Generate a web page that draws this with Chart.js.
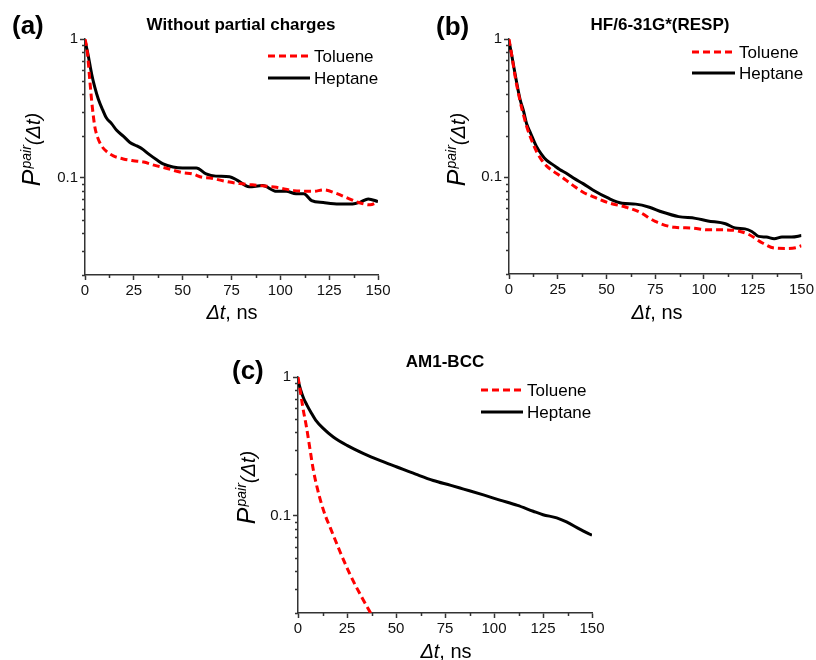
<!DOCTYPE html>
<html>
<head>
<meta charset="utf-8">
<script src="https://cdn.jsdelivr.net/npm/chart.js@4.4.1/dist/chart.umd.min.js"></script>
<style>
    body { margin: 0; background: #fff; }
    #wrap { position: relative; width: 816px; height: 660px; overflow: hidden; }
    canvas { position: absolute; left: 0; top: 0; }
</style>
</head>
<body>
<div id="wrap">
    <canvas id="CHART_A" width="816" height="660"></canvas>
    <canvas id="CHART_B" width="816" height="660"></canvas>
    <canvas id="CHART_C" width="816" height="660"></canvas>
</div>
<script>
"use strict"

// x ticks (ns) and y ticks (log)
const xticks = [0, 25, 50, 75, 100, 125, 150]
const xminor = [12.5, 37.5, 62.5, 87.5, 112.5, 137.5]
const yticks = [0.1, 1]
const yminor = [0.02, 0.03, 0.04, 0.05, 0.06, 0.07, 0.08, 0.09, 0.2, 0.3, 0.4, 0.5, 0.6, 0.7, 0.8, 0.9]
const series_names = ["Toluene", "Heptane"]

// (a) without partial charges
const a_tol_t = [0, 1, 2.6, 3.4, 5, 6.5, 8.5, 11, 14.5, 19.6, 24.7, 30, 35.8, 40, 50, 55, 60, 64, 71, 79, 90, 98, 107, 117, 122, 129, 135, 140, 146, 150]
const a_tol_p = [1.0, 0.85, 0.48, 0.36, 0.235, 0.195, 0.17, 0.155, 0.144, 0.137, 0.133, 0.13, 0.123, 0.119, 0.109, 0.107, 0.101, 0.1, 0.095, 0.091, 0.088, 0.0855, 0.081, 0.08, 0.082, 0.077, 0.071, 0.0665, 0.064, 0.067]
const a_hep_t = [0, 1.5, 3.4, 5, 6.8, 9, 11, 13.7, 16.2, 19.6, 23, 26.5, 29, 33, 36.7, 40, 45, 50, 57, 62, 67, 74, 78, 84, 91, 98, 103, 108, 112, 116, 122, 130, 137, 141, 145, 150]
const a_hep_p = [0.97, 0.78, 0.56, 0.45, 0.37, 0.31, 0.27, 0.245, 0.22, 0.2, 0.18, 0.17, 0.163, 0.147, 0.135, 0.126, 0.12, 0.118, 0.118, 0.107, 0.103, 0.102, 0.096, 0.0865, 0.088, 0.08, 0.08, 0.077, 0.077, 0.0686, 0.0665, 0.065, 0.065, 0.067, 0.0706, 0.0675]

// (b) HF/6-31G*(RESP)
const b_tol_t = [0, 1.5, 3.1, 5.6, 7.5, 9, 11, 14, 16.5, 19.2, 23, 26, 29.4, 34, 38, 43, 51, 60, 67, 75, 85, 94, 102, 111, 118, 123, 130, 136, 141.5, 147, 150]
const b_tol_p = [1.0, 0.75, 0.54, 0.36, 0.28, 0.235, 0.195, 0.155, 0.135, 0.121, 0.11, 0.103, 0.095, 0.085, 0.078, 0.0726, 0.0655, 0.0608, 0.056, 0.048, 0.0435, 0.043, 0.0417, 0.0417, 0.0408, 0.0386, 0.0335, 0.0308, 0.0306, 0.031, 0.032]
const b_hep_t = [0, 1.5, 3.1, 5.6, 7.5, 9, 11, 14, 16.5, 19.2, 23, 26, 29.4, 34, 38, 43, 51, 58, 65, 72, 78.6, 87, 95.6, 102, 111, 116, 121, 124.5, 128, 132, 136, 140, 145, 150]
const b_hep_p = [0.97, 0.75, 0.56, 0.37, 0.3, 0.245, 0.21, 0.168, 0.148, 0.133, 0.122, 0.114, 0.107, 0.097, 0.09, 0.081, 0.0706, 0.065, 0.064, 0.0608, 0.0561, 0.052, 0.0505, 0.0484, 0.0462, 0.043, 0.0424, 0.0406, 0.0374, 0.037, 0.036, 0.037, 0.037, 0.0379]

// (c) AM1-BCC
const c_tol_t = [0, 1, 2.5, 4.4, 6, 7.8, 10, 12, 14, 16.5, 21.5, 26.5, 32.5, 37.5, 40]
const c_tol_p = [1.0, 0.82, 0.6, 0.43, 0.31, 0.215, 0.155, 0.122, 0.1, 0.082, 0.055, 0.038, 0.026, 0.0195, 0.017]
const c_hep_t = [0, 1.2, 2.9, 4.5, 6.5, 9, 13, 18, 25, 33.5, 42, 50.5, 60, 69, 78, 84.5, 95, 103, 112, 120, 125, 132, 137, 144, 150]
const c_hep_p = [0.95, 0.82, 0.7, 0.63, 0.56, 0.49, 0.425, 0.37, 0.322, 0.281, 0.25, 0.225, 0.2, 0.18, 0.166, 0.156, 0.141, 0.13, 0.119, 0.108, 0.102, 0.0968, 0.0905, 0.08, 0.0726]

const FONT = "'Liberation Sans', Arial, sans-serif"
const RED = "#ff0000"
const AXIS = "#333"

function zip(t, p) { return t.map((x, i) => ({ x: x, y: p[i] })) }

// minor ticks + labels + legend, all in page pixels
const decor = {
    id: "decor",
    afterDraw(chart, args, o) {
        const ctx = chart.ctx
        const xs = chart.scales.x, ys = chart.scales.y
        const area = chart.chartArea
        ctx.save()
        ctx.strokeStyle = AXIS
        ctx.lineWidth = 1.5
        ctx.beginPath()
        xminor.forEach(v => {
            const px = Math.round(xs.getPixelForValue(v)) + 0.5
            ctx.moveTo(px, area.bottom)
            ctx.lineTo(px, area.bottom + 3)
        })
        yminor.forEach(v => {
            const py = Math.round(ys.getPixelForValue(v)) + 0.5
            ctx.moveTo(area.left, py)
            ctx.lineTo(area.left - 3, py)
        })
        ctx.stroke()

        ctx.fillStyle = "#000"
        ctx.textBaseline = "middle"
        // panel letter
        ctx.font = `bold 26px ${FONT}`
        ctx.textAlign = "left"
        ctx.fillText(o.letter, o.lx, o.ly)
        // panel title
        ctx.font = `bold 17px ${FONT}`
        ctx.textAlign = "center"
        ctx.fillText(o.title, o.tx, o.ty)

        // legend
        ctx.textAlign = "left"
        ctx.font = `17px ${FONT}`
        chart.data.datasets.forEach((d, i) => {
            const y = o.leg_y[i]
            ctx.save()
            ctx.strokeStyle = d.borderColor
            ctx.lineWidth = d.borderWidth
            ctx.setLineDash(d.borderDash || [])
            ctx.beginPath()
            ctx.moveTo(o.leg_x0, y)
            ctx.lineTo(o.leg_x1, y)
            ctx.stroke()
            ctx.restore()
            ctx.fillStyle = "#000"
            ctx.fillText(d.label, o.leg_x1 + 4, y + 1)
        })

        // y title: P^pair(Δt)
        ctx.save()
        ctx.translate(o.yx, o.yy)
        ctx.rotate(-Math.PI / 2)
        ctx.textBaseline = "alphabetic"
        ctx.textAlign = "left"
        const parts = [
            { s: "P", f: `italic 25px ${FONT}`, dy: 0 },
            { s: "pair", f: `italic 14px ${FONT}`, dy: -9 },
            { s: "(\u0394t)", f: `italic 20px ${FONT}`, dy: 0 },
        ]
        let w = 0
        parts.forEach(p => { ctx.font = p.f; p.w = ctx.measureText(p.s).width; w += p.w })
        let x = -w / 2
        parts.forEach(p => { ctx.font = p.f; ctx.fillText(p.s, x, 8 + p.dy); x += p.w + (p.s == "P" ? 1 : 0) })
        ctx.restore()

        // x title: Δt, ns
        ctx.textBaseline = "middle"
        ctx.textAlign = "left"
        ctx.font = `italic 20px ${FONT}`
        const w1 = ctx.measureText("\u0394t").width
        ctx.font = `20px ${FONT}`
        const w2 = ctx.measureText(", ns").width
        const x0 = o.xx - (w1 + w2) / 2
        ctx.font = `italic 20px ${FONT}`
        ctx.fillText("\u0394t", x0, o.xy)
        ctx.font = `20px ${FONT}`
        ctx.fillText(", ns", x0 + w1, o.xy)
        ctx.restore()
    }
}

function panel(canvas, box, tol, hep, deco) {
    const yw = 40, xh = 30
    return new Chart(canvas, {
        type: "scatter",
        data: {
            datasets: [
                { label: series_names[0], data: tol, showLine: true, borderColor: RED, borderWidth: 3, borderDash: [7, 4], pointRadius: 0, cubicInterpolationMode: "monotone" },
                { label: series_names[1], data: hep, showLine: true, borderColor: "#000", borderWidth: 3, pointRadius: 0, cubicInterpolationMode: "monotone" },
            ]
        },
        options: {
            animation: false,
            responsive: false,
            devicePixelRatio: 1,
            layout: { padding: { left: box.l - yw, right: 816 - box.r, top: box.t, bottom: 660 - box.b - xh } },
            plugins: { legend: { display: false }, tooltip: { enabled: false }, decor: deco },
            scales: {
                x: {
                    type: "linear", min: 0, max: 150,
                    afterFit: s => { s.height = xh },
                    afterBuildTicks: s => { s.ticks = xticks.map(v => ({ value: v })) },
                    ticks: { font: { family: FONT, size: 15 }, color: "#111", padding: 2, maxRotation: 0 },
                    grid: { drawOnChartArea: false, tickLength: 5, color: AXIS, tickWidth: 1.5 },
                    border: { color: AXIS, width: 1.5 },
                },
                y: {
                    type: "logarithmic", min: 0.02, max: 1,
                    afterFit: s => { s.width = yw },
                    afterBuildTicks: s => { s.ticks = yticks.map(v => ({ value: v })) },
                    ticks: { callback: v => String(v), font: { family: FONT, size: 15 }, color: "#111", padding: 2 },
                    grid: { drawOnChartArea: false, tickLength: 5, color: AXIS, tickWidth: 1.5 },
                    border: { color: AXIS, width: 1.5 },
                },
            },
        },
        plugins: [decor],
    })
}

panel(CHART_A, { l: 85, r: 378, t: 39, b: 275 }, zip(a_tol_t, a_tol_p), zip(a_hep_t, a_hep_p), {
    letter: "(a)", lx: 12, ly: 27, title: "Without partial charges", tx: 241, ty: 25,
    leg_x0: 268, leg_x1: 310, leg_y: [56, 78], yx: 32, yy: 150, xx: 232, xy: 313,
})
panel(CHART_B, { l: 509, r: 803, t: 39, b: 274 }, zip(b_tol_t, b_tol_p), zip(b_hep_t, b_hep_p), {
    letter: "(b)", lx: 436, ly: 28, title: "HF/6-31G*(RESP)", tx: 660, ty: 25,
    leg_x0: 692, leg_x1: 735, leg_y: [52, 73], yx: 457, yy: 150, xx: 657, xy: 313,
})
panel(CHART_C, { l: 298, r: 592, t: 377, b: 613 }, zip(c_tol_t, c_tol_p), zip(c_hep_t, c_hep_p), {
    letter: "(c)", lx: 232, ly: 372, title: "AM1-BCC", tx: 445, ty: 362,
    leg_x0: 481, leg_x1: 523, leg_y: [390, 412], yx: 247, yy: 488, xx: 446, xy: 652,
})
</script>
</body>
</html>
